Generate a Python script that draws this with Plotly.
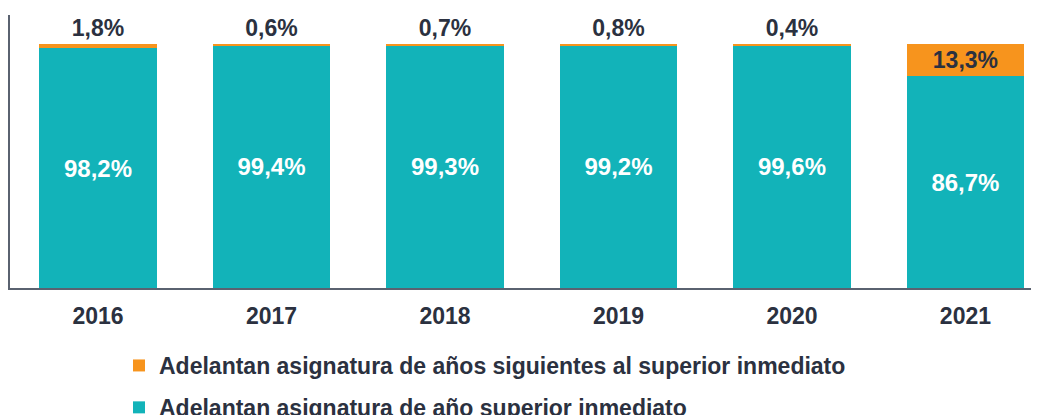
import plotly.graph_objects as go

years = ["2016", "2017", "2018", "2019", "2020", "2021"]
inmediato = [98.2, 99.4, 99.3, 99.2, 99.6, 86.7]
siguientes = [1.8, 0.6, 0.7, 0.8, 0.4, 13.3]
name_inm = "Adelantan asignatura de año superior inmediato"
name_sig = "Adelantan asignatura de años siguientes al superior inmediato"

TEAL = "#12B3B9"
ORANGE = "#F7941D"
DARK = "#2b3140"
FONT = "Liberation Sans"

W, H = 1031, 407  # page body adds an 8px offset

def fmt(v):
    return f"{v:.1f}%".replace(".", ",")

fig = go.Figure()
fig.add_trace(go.Bar(
    x=years, y=inmediato, name=name_inm, legendgroup="b", legendrank=2,
    marker=dict(color=TEAL, line=dict(width=0)),
    text=[fmt(v) for v in inmediato], textposition="inside",
    insidetextanchor="middle", textangle=0,
    textfont=dict(family=FONT, size=24, color="white", weight="bold"),
    constraintext="none", width=0.675, hoverinfo="skip",
))
fig.add_trace(go.Bar(
    x=years, y=siguientes, name=name_sig, legendgroup="a", legendrank=1,
    marker=dict(color=ORANGE, line=dict(width=0)),
    text=[fmt(v) for v in siguientes],
    textposition=["outside" if v < 5 else "inside" for v in siguientes],
    insidetextanchor="middle", textangle=0,
    textfont=dict(family=FONT, size=23, color=DARK, weight="bold"),
    outsidetextfont=dict(family=FONT, size=23, color=DARK, weight="bold"),
    insidetextfont=dict(family=FONT, size=23, color=DARK, weight="bold"),
    constraintext="none", width=0.675, cliponaxis=False, hoverinfo="skip",
))

fig.update_layout(
    barmode="stack",
    width=W, height=H,
    margin=dict(l=2, r=0, t=7, b=127, autoexpand=False),
    plot_bgcolor="white", paper_bgcolor="white",
    font=dict(family=FONT, color=DARK),
    showlegend=True,
    legend=dict(
        orientation="v", traceorder="grouped", tracegroupgap=9,
        xref="container", yref="container",
        x=111/W, xanchor="left",
        y=1 - 336/H, yanchor="top",
        font=dict(family=FONT, size=23, color=DARK, weight="bold"),
        bgcolor="rgba(0,0,0,0)",
    ),
    xaxis=dict(
        type="category", range=[-0.5075, 5.424],
        showline=True, linecolor="#5a6270", linewidth=1.5,
        showgrid=False, ticks="", zeroline=False, tickangle=0,
        tickfont=dict(family=FONT, size=23, color=DARK, weight="bold"),
        ticklabelstandoff=7,
    ),
    yaxis=dict(
        range=[0, 111.9], showline=True, linecolor="#5a6270", linewidth=1.5,
        showgrid=False, showticklabels=False, ticks="", zeroline=False,
    ),
)

fig.write_html("out.html")
